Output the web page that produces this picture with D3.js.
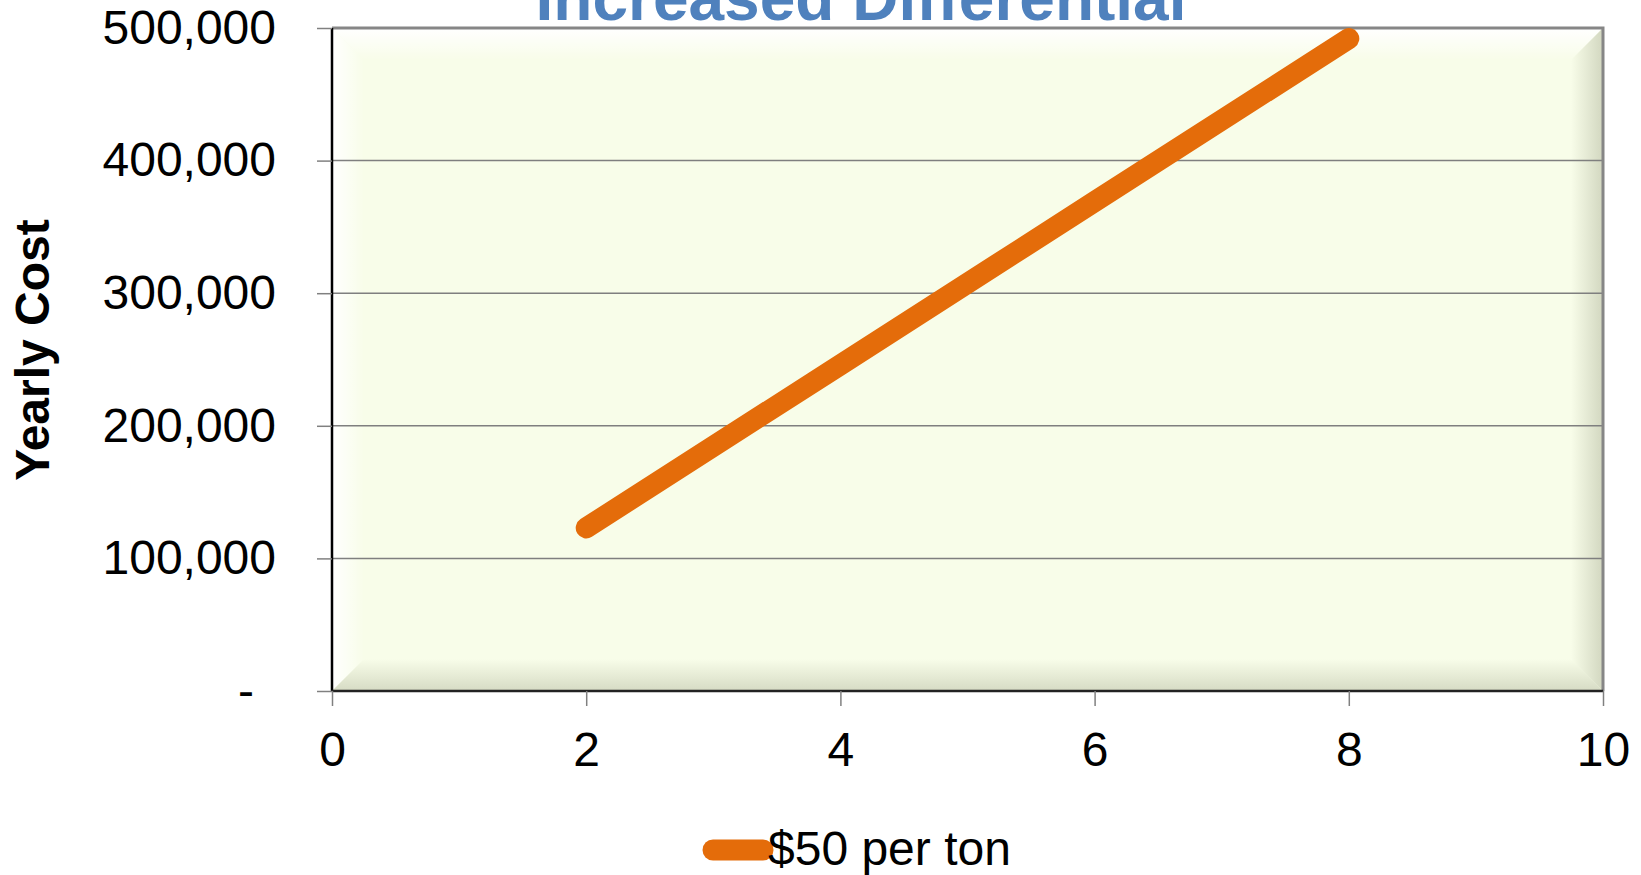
<!DOCTYPE html>
<html>
<head>
<meta charset="utf-8">
<script src="https://cdn.jsdelivr.net/npm/d3@7"></script>
<style>
  html, body { margin: 0; padding: 0; background: #ffffff; }
  svg { display: block; font-family: Arial, "Liberation Sans", Helvetica, sans-serif; }
</style>
</head>
<body>
<svg id="chart" width="1641" height="875"></svg>
<script>
// Yearly cost at $50 per ton against the increased differential
const seriesName = "$50 per ton";
const xValues = [2, 4, 6, 8];
const yearlyCost = [123000, 246000, 369000, 492000];
const xTicks = [0, 2, 4, 6, 8, 10];
const yTicks = [0, 100000, 200000, 300000, 400000, 500000];
const chartTitle = "Increased Differential";
const yTitle = "Yearly Cost";

const svg = d3.select("#chart");
const plot = { left: 332, top: 28, right: 1603, bottom: 691 };
const W = plot.right - plot.left, H = plot.bottom - plot.top;

const x = d3.scaleLinear().domain([0, 10]).range([plot.left, plot.right]);
const y = d3.scaleLinear().domain([0, 500000]).range([plot.bottom, plot.top]);

const bg = "#F8FDE9";
const defs = svg.append("defs");
function grad(id, x1, y1, x2, y2, c0, o0) {
  const g = defs.append("linearGradient").attr("id", id)
    .attr("x1", x1).attr("y1", y1).attr("x2", x2).attr("y2", y2);
  g.append("stop").attr("offset", "0%").attr("stop-color", c0).attr("stop-opacity", o0);
  g.append("stop").attr("offset", "100%").attr("stop-color", c0).attr("stop-opacity", 0);
}
grad("bevTop", 0, 0, 0, 1, "#ffffff", 1);
grad("bevLeft", 0, 0, 1, 0, "#ffffff", 1);
grad("bevBottom", 0, 1, 0, 0, "#d6dbc4", 1);
grad("bevRight", 1, 0, 0, 0, "#d2d7c0", 1);

// plot area fill with a bevelled frame
svg.append("rect").attr("x", plot.left).attr("y", plot.top)
  .attr("width", W).attr("height", H).attr("fill", bg);
const b = 32;
const L = plot.left, T = plot.top, R = plot.right, B = plot.bottom;
const bevels = [
  { id: "bevTop", pts: [[L, T], [R, T], [R - b, T + b], [L + b, T + b]] },
  { id: "bevLeft", pts: [[L, T], [L + b, T + b], [L + b, B - b], [L, B]] },
  { id: "bevBottom", pts: [[L, B], [L + b, B - b], [R - b, B - b], [R, B]] },
  { id: "bevRight", pts: [[R, T], [R, B], [R - b, B - b], [R - b, T + b]] }
];
svg.append("g").selectAll("polygon").data(bevels).join("polygon")
  .attr("points", d => d.pts.map(p => p.join(",")).join(" "))
  .attr("fill", d => `url(#${d.id})`);

// horizontal gridlines
svg.append("g").selectAll("line").data(yTicks.filter(v => v > 0 && v < 500000)).join("line")
  .attr("x1", plot.left).attr("x2", plot.right)
  .attr("y1", d => y(d)).attr("y2", d => y(d))
  .attr("stroke", "#7f7f7f").attr("stroke-width", 1.5);

// top and right border
svg.append("path")
  .attr("d", `M${L},${T}H${R}V${B}`)
  .attr("fill", "none").attr("stroke", "#868686").attr("stroke-width", 3);

// axes
const fmt = d3.format(",");
const yAxis = svg.append("g").attr("transform", `translate(${plot.left},0)`)
  .call(d3.axisLeft(y).tickValues(yTicks).tickSize(15).tickPadding(41)
    .tickFormat(d => d === 0 ? "-" : fmt(d)));
const xAxis = svg.append("g").attr("transform", `translate(0,${plot.bottom})`)
  .call(d3.axisBottom(x).tickValues(xTicks).tickSize(15).tickPadding(26));

[yAxis, xAxis].forEach(g => {
  g.selectAll(".tick line").attr("stroke", "#808080").attr("stroke-width", 1.5);
  g.selectAll(".tick text").attr("fill", "#000").style("font-size", "48px")
    .style("font-family", "Arial, 'Liberation Sans', sans-serif");
});
yAxis.select(".domain").attr("stroke", "#000").attr("stroke-width", 2.5);
xAxis.select(".domain").attr("stroke", "#222").attr("stroke-width", 2.5);
yAxis.selectAll(".tick text").filter(d => d === 0).attr("dx", -22);
yAxis.select(".domain").attr("d", `M0,${plot.bottom}V${plot.top}`);
xAxis.select(".domain").attr("d", `M${plot.left},0H${plot.right}`);

// series line
const pts = xValues.map((v, i) => [v, yearlyCost[i]]);
svg.append("path").datum(pts)
  .attr("d", d3.line().x(d => x(d[0])).y(d => y(d[1])))
  .attr("fill", "none").attr("stroke", "#E46C0A").attr("stroke-width", 21)
  .attr("stroke-linecap", "round").attr("stroke-linejoin", "round");

// y-axis title
svg.append("text")
  .attr("transform", "translate(49,350) rotate(-90)")
  .attr("text-anchor", "middle")
  .style("font-size", "48px").style("font-weight", "bold")
  .text(yTitle);

// chart title (partly above the top edge)
svg.append("text")
  .attr("x", 861).attr("y", 20)
  .attr("text-anchor", "middle")
  .attr("fill", "#4F81BD")
  .style("font-size", "64px").style("font-weight", "bold")
  .text(chartTitle);

// legend
const lg = svg.append("g");
lg.append("line").attr("x1", 713).attr("x2", 763).attr("y1", 850).attr("y2", 850)
  .attr("stroke", "#E46C0A").attr("stroke-width", 21).attr("stroke-linecap", "round");
lg.append("text").attr("x", 768).attr("y", 865)
  .style("font-size", "48px").text(seriesName);
</script>
</body>
</html>
